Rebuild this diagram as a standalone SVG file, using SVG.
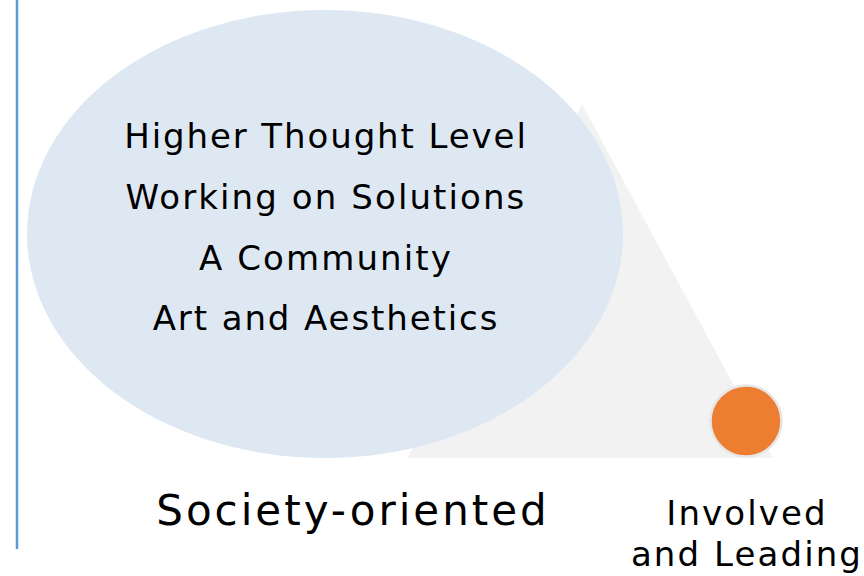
<svg xmlns="http://www.w3.org/2000/svg" width="864" height="576" viewBox="0 0 864 576">
<style>
.t{font-family:"DejaVu Sans","Verdana",sans-serif;fill:#000;text-anchor:middle}
.m{font-size:34px;letter-spacing:2.1px}
.n{letter-spacing:1.9px}
</style>
<rect width="864" height="576" fill="#fff"/>
<line x1="17" y1="0" x2="17" y2="549" stroke="#5b9bd5" stroke-width="2.5"/>
<g id="triangle">
<polygon points="582,104 773,458 408,458" fill="#f2f2f2"/>
</g>
<g id="ellipse">
<ellipse cx="325" cy="234" rx="298" ry="224" fill="#dee8f3"/>
<text class="t m n" x="326" y="148">Higher Thought Level</text>
<text class="t m" x="326" y="209">Working on Solutions</text>
<text class="t m" x="326" y="270">A Community</text>
<text class="t m n" x="326" y="330">Art and Aesthetics</text>
</g>
<g id="dot">
<circle cx="746" cy="421" r="35.5" fill="#ed7d31" stroke="#e6e6e6" stroke-width="2.5"/>
</g>
<g id="labels">
<text class="t" x="353" y="525" font-size="42" letter-spacing="3">Society-oriented</text>
<text class="t m" x="747" y="525">Involved</text>
<text class="t m" x="747" y="566">and Leading</text>
</g>
<g id="connectors"/>
</svg>
